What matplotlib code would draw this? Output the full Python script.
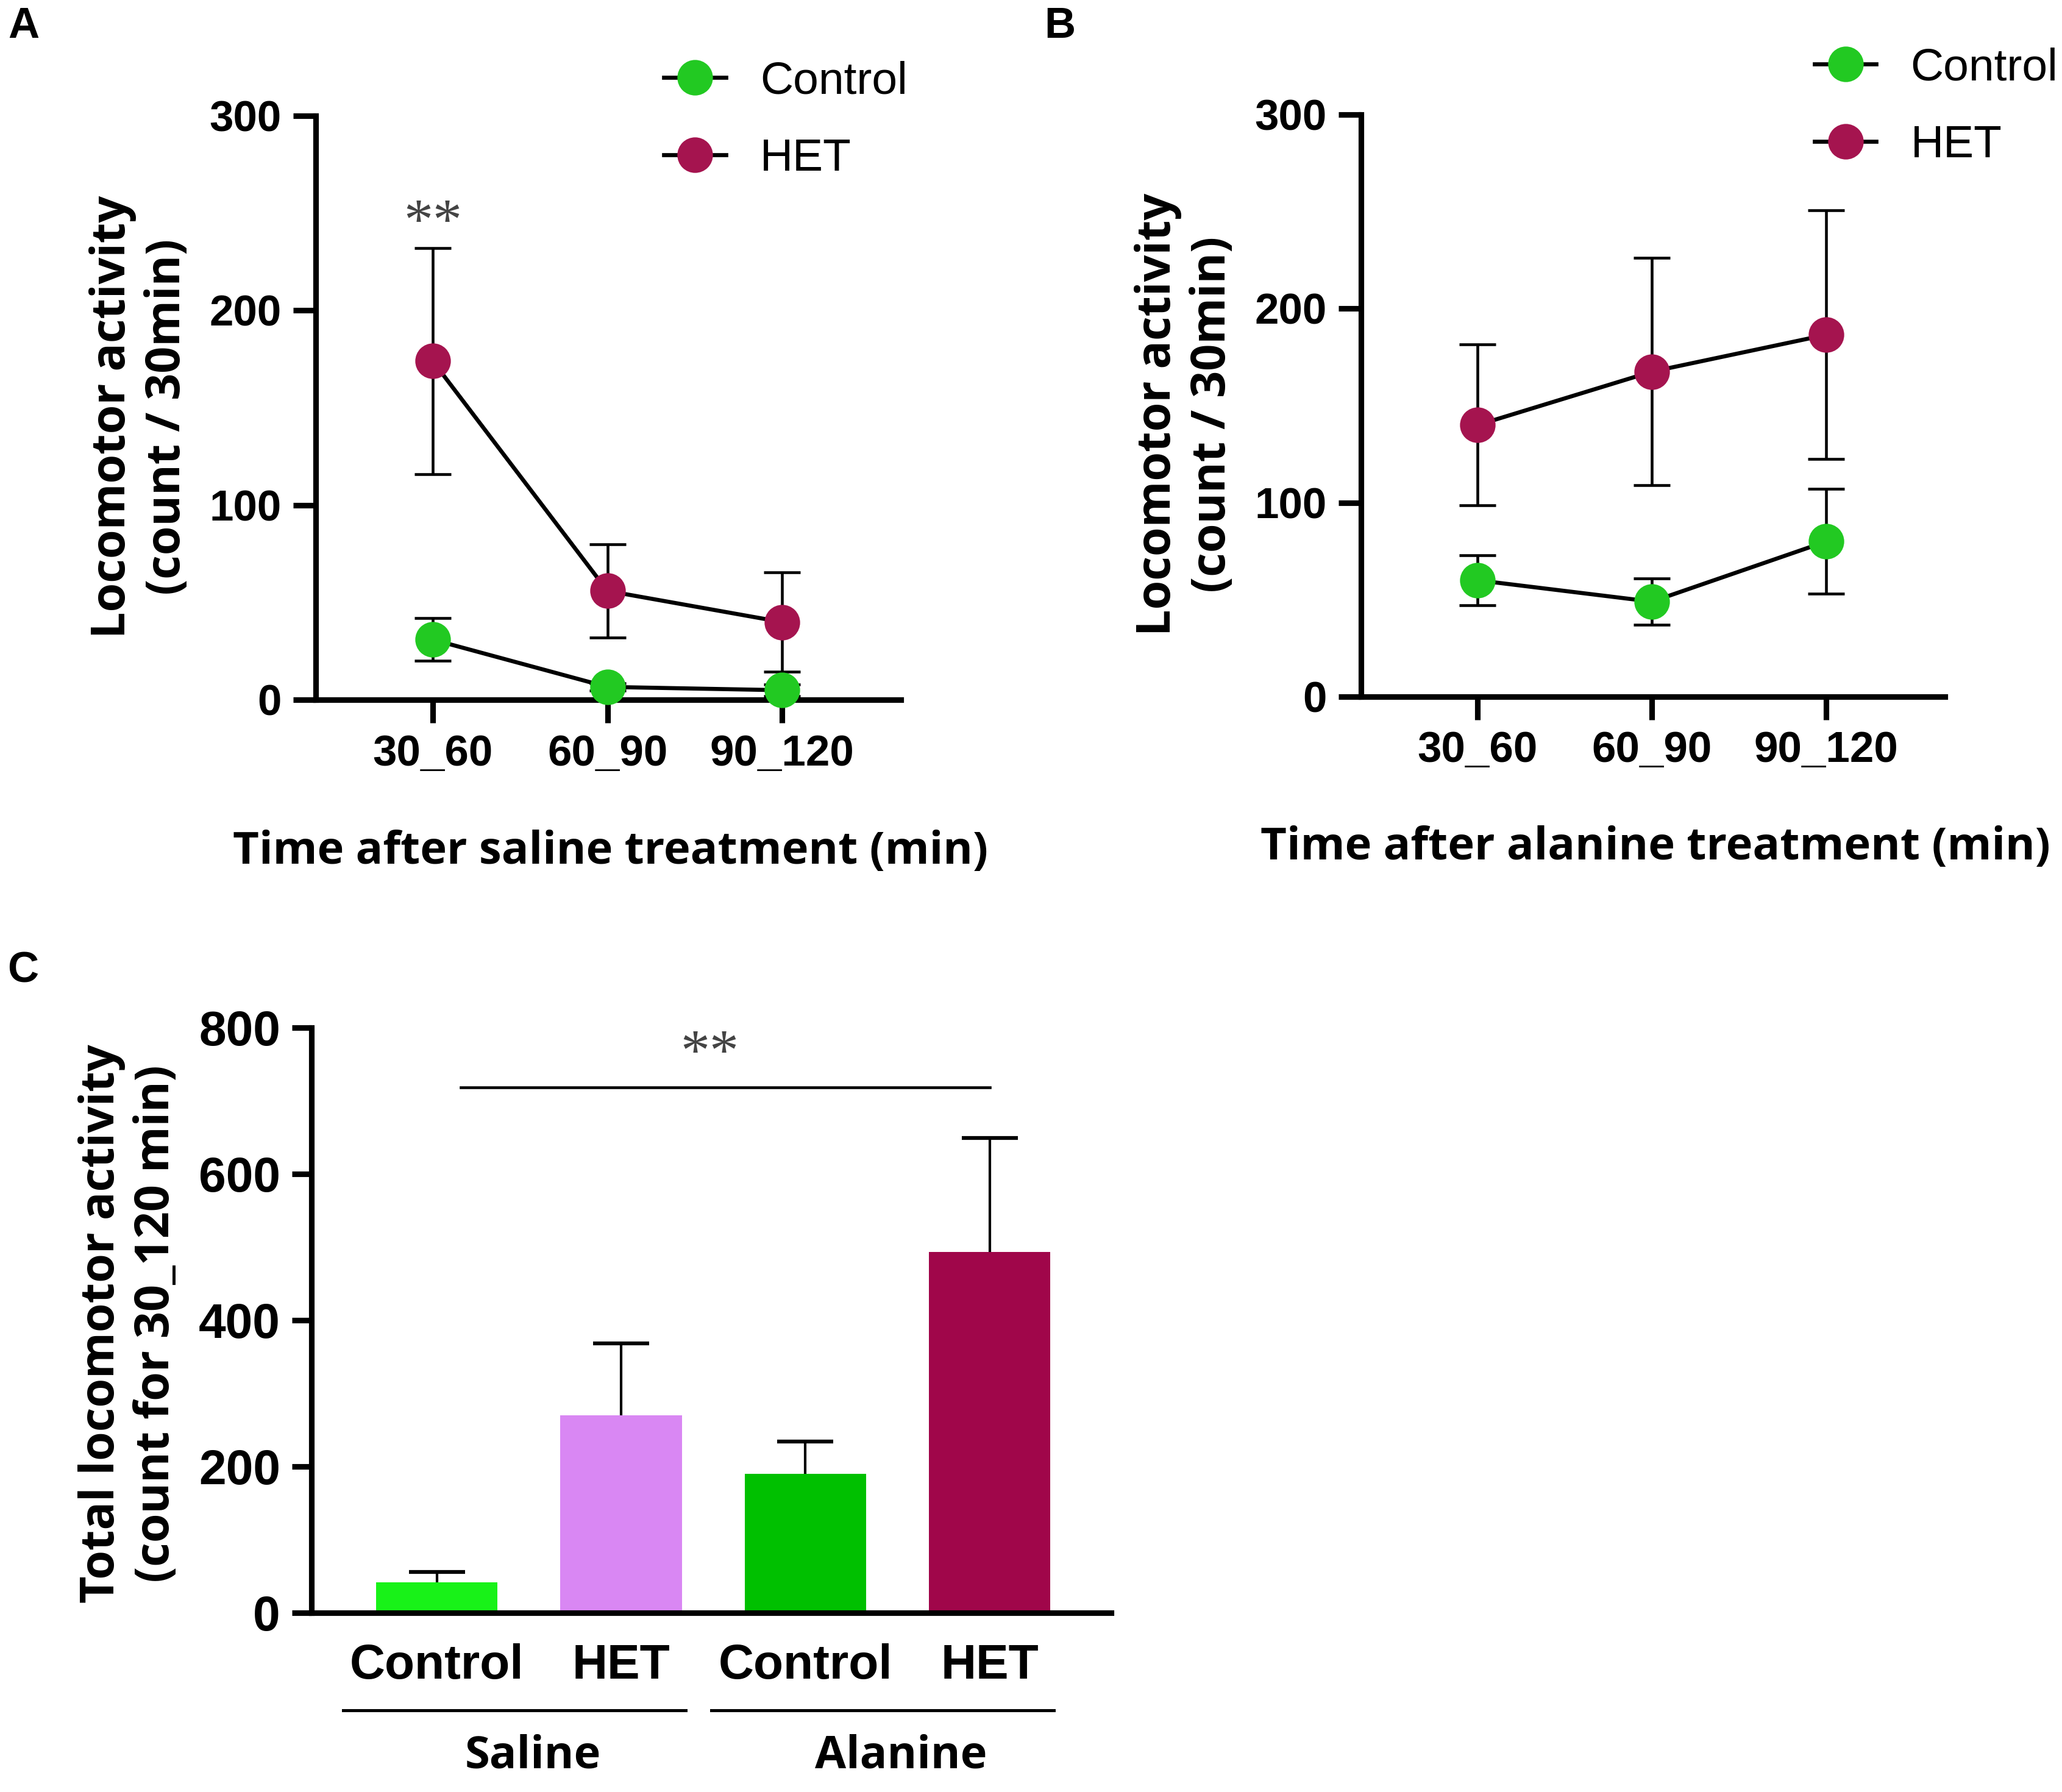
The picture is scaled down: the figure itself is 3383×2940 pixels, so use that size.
import matplotlib
matplotlib.use('Agg')
import matplotlib.pyplot as plt
from matplotlib import font_manager
from matplotlib.font_manager import FontProperties
import numpy as np

# data
times = ['30_60', '60_90', '90_120']
sal_ctrl = [31, 6.7, 5]
sal_ctrl_err = [11, 2, 3]
sal_het = [174, 56, 40]
sal_het_err = [58, 24, 25.5]
ala_ctrl = [60, 49, 80]
ala_ctrl_err = [13, 12, 27]
ala_het = [140, 167.5, 186.5]
ala_het_err = [41.5, 58.5, 64]

groups = ['Control', 'HET', 'Control', 'HET']
totals = [42, 270, 190, 493]
totals_err = [14, 98, 44, 156]
treatments = ['Saline', 'Alanine']

green = '#22c922'
het_col = '#a5144f'
bar_cols = ['#18f218', '#d987f3', '#00c000', '#a0064a']

names = {f.name for f in font_manager.fontManager.ttflist}
label_fam = 'Open Sans' if 'Open Sans' in names else 'DejaVu Sans'

tick_fp = FontProperties(family='Liberation Sans', weight='bold', size=17)
tick_fp_c = FontProperties(family='Liberation Sans', weight='bold', size=19.3)
ylab_fp = FontProperties(family=label_fam, weight='bold', size=18.5)
xlab_fp = FontProperties(family=label_fam, weight='bold', size=17.8)
leg_fp = FontProperties(family='Liberation Sans', size=18)
star_fp = FontProperties(family='Liberation Serif', size=23)
panel_fp = FontProperties(family='Liberation Sans', weight='bold', size=17)

fig = plt.figure(figsize=(3383 / 300, 2940 / 300), dpi=300)


def style_axes(ax, tl):
    for s in ['top', 'right']:
        ax.spines[s].set_visible(False)
    for s in ['left', 'bottom']:
        ax.spines[s].set_linewidth(2.2)
    ax.tick_params(width=2.2, length=tl, direction='out', pad=4.5)


def line_panel(ax, ctrl, ctrl_err, het, het_err, xlabel, leg_xy):
    x = np.arange(len(times))
    for y, e in [(ctrl, ctrl_err), (het, het_err)]:
        ax.errorbar(x, y, yerr=e, fmt='none', ecolor='black', elinewidth=1.1,
                    capsize=7.2, capthick=1.1, zorder=2, clip_on=False)
    ax.plot(x, ctrl, '-o', color='black', lw=1.6, ms=13, mfc=green, mec=green,
            label='Control', zorder=3, clip_on=False)
    ax.plot(x, het, '-o', color='black', lw=1.6, ms=13, mfc=het_col, mec=het_col,
            label='HET', zorder=3, clip_on=False)
    ax.set_xlim(-0.67, 2.68)
    ax.set_ylim(0, 300)
    ax.set_xticks(x, times, fontproperties=tick_fp)
    ax.set_yticks([0, 100, 200, 300], ['0', '100', '200', '300'], fontproperties=tick_fp)
    style_axes(ax, 9)
    ax.set_ylabel('Locomotor activity\n(count / 30min)', fontproperties=ylab_fp,
                  va='center', ha='center', multialignment='center')
    ax.yaxis.set_label_coords(-0.30, 0.485)
    ax.set_xlabel(xlabel, fontproperties=xlab_fp, va='center')
    ax.xaxis.set_label_coords(0.504, -0.26)
    ax.legend(loc='center left', bbox_to_anchor=leg_xy, bbox_transform=fig.transFigure,
              frameon=False, prop=leg_fp, handlelength=1.35, handletextpad=0.75,
              labelspacing=0.77, borderpad=0, borderaxespad=0)


axA = fig.add_axes([0.1531, 0.6094, 0.2838, 0.3260])
line_panel(axA, sal_ctrl, sal_ctrl_err, sal_het, sal_het_err,
           'Time after saline treatment (min)', (0.322, 0.9328))
axA.text(0, 244, '**', fontproperties=star_fp, color='#444444',
         ha='center', va='center')

axB = fig.add_axes([0.6600, 0.6112, 0.2832, 0.3249])
line_panel(axB, ala_ctrl, ala_ctrl_err, ala_het, ala_het_err,
           'Time after alanine treatment (min)', (0.880, 0.9405))

# panel C
axC = fig.add_axes([0.1511, 0.0999, 0.3878, 0.3267])
xc = np.arange(len(groups))
axC.bar(xc, totals, width=0.66, color=bar_cols, zorder=2)
eb = axC.errorbar(xc, totals, yerr=[np.zeros(len(totals)), totals_err], fmt='none',
                  ecolor='black', elinewidth=1.0, capsize=11, capthick=1.5, zorder=1)
eb[1][0].set_visible(False)  # no lower caps, only upward error
axC.set_xlim(-0.68, 3.66)
axC.set_ylim(0, 800)
axC.set_xticks(xc, groups, fontproperties=tick_fp_c)
axC.set_yticks([0, 200, 400, 600, 800], ['0', '200', '400', '600', '800'],
               fontproperties=tick_fp_c)
style_axes(axC, 7.8)
axC.tick_params(axis='x', length=0, pad=12)
axC.set_ylabel('Total locomotor activity\n(count for 30_120 min)', fontproperties=ylab_fp,
               va='center', ha='center', multialignment='center')
axC.yaxis.set_label_coords(-0.228, 0.494)

# group underlines and treatment names
tr = axC.get_xaxis_transform()
for i, name in enumerate(treatments):
    a, b = xc[2 * i], xc[2 * i + 1]
    axC.plot([a - 0.51, b + 0.35], [-0.166, -0.166], color='black', lw=1.2,
             transform=tr, clip_on=False)
    axC.text((a + b) / 2 + 0.02, -0.245, name, fontproperties=xlab_fp,
             transform=tr, ha='center', va='center')

# significance bar
axC.plot([xc[0] + 0.13, xc[3]], [718, 718], color='black', lw=1.1, clip_on=False)
axC.text((xc[1] + xc[2]) / 2 - 0.02, 762, '**', fontproperties=star_fp,
         color='#444444', ha='center', va='center')

for lab, px, py in [('A', 0.0115, 0.985), ('B', 0.514, 0.985), ('C', 0.011, 0.458)]:
    fig.text(px, py, lab, fontproperties=panel_fp, ha='center', va='center')

fig.savefig('out.png', dpi=300)
